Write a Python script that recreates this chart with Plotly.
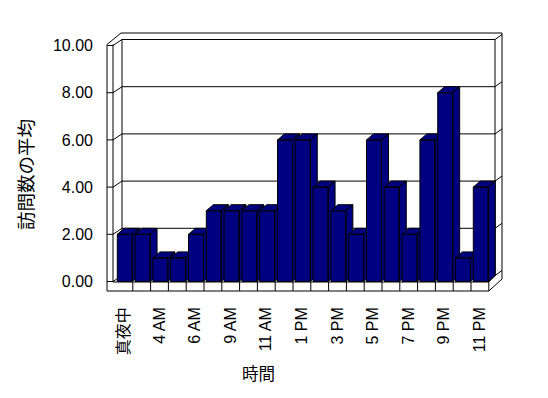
import plotly.graph_objects as go

# ---- data ----
categories = ["真夜中", "1 AM", "4 AM", "5 AM", "6 AM", "8 AM", "9 AM", "10 AM", "11 AM",
              "正午", "1 PM", "2 PM", "3 PM", "4 PM", "5 PM", "6 PM", "7 PM", "8 PM",
              "9 PM", "10 PM", "11 PM"]
values = [2, 2, 1, 1, 2, 3, 3, 3, 3, 6, 6, 4, 3, 2, 6, 4, 2, 6, 8, 1, 4]
y_ticks = [0, 2, 4, 6, 8, 10]
x_title = "時間"
y_title = "訪問数の平均"

# ---- geometry (pixel scale helpers) ----
W, H = 548, 398
PL, PR, PT, PB = 100, 510, 25, 300          # plot area in pixels
X0PX, CW = 115.0, 17.8                       # category 0 left edge, px per category
Y0PX, YU = 281.5, 23.6                       # value 0 position, px per unit


def dx(px):
    return px / CW


def dy(px):
    return px / YU


def X(px):
    return (px - X0PX) / CW


def Y(py):
    return (Y0PX - py) / YU


xr = [X(PL), X(PR)]
yr = [Y(PB), Y(PT)]

NAVY = "#000080"
fig = go.Figure()

# ---- bars as 3D prisms (front, top, side) ----
BDX, BDY = dx(7), dy(6)
for i, v in enumerate(values):
    x0, x1 = i + 0.13, i + 0.97
    xs = [x1, x1 + BDX, x1 + BDX, x1, x1, None,
          x0, x1, x1 + BDX, x0 + BDX, x0, None,
          x0, x1, x1, x0, x0]
    ys = [0, BDY, v + BDY, v, 0, None,
          v, v, v + BDY, v + BDY, v, None,
          0, 0, v, v, 0]
    fig.add_trace(go.Scatter(x=xs, y=ys, mode="lines", fill="toself",
                             fillcolor=NAVY, line=dict(color="black", width=1),
                             hoverinfo="skip", showlegend=False))

# ---- frame / walls / gridlines ----
shapes = []


def seg(p, q):
    shapes.append(dict(type="line", x0=X(p[0]), y0=Y(p[1]), x1=X(q[0]), y1=Y(q[1]),
                       line=dict(color="black", width=1), layer="below"))


WDX, WDY = 9, 6
for t in y_ticks:
    fy = Y0PX - t * YU
    seg((107, fy), (113, fy))
    seg((113, fy), (113 + WDX, fy - WDY))
    seg((113 + WDX, fy - WDY), (495, fy - WDY))
    seg((495, fy - WDY), (502, fy - WDY - 5))

top_front = Y0PX - 10 * YU
seg((107, top_front - 1), (107, 291))
seg((113, top_front - 1), (113, 282))
seg((122, top_front - WDY), (122, Y0PX - WDY))
seg((495, top_front - WDY), (495, Y0PX - WDY))
seg((107, top_front - 1), (121, 33))
seg((121, 33), (502, 33))
seg((502, 33), (502, 279))
seg((502, 279), (488.8, 291))
seg((107, 291), (488.8, 291))
seg((113, 282), (488.8, 282))
seg((488.8, 282), (495, Y0PX - WDY))
for k in range(1, len(values) + 1):
    xk = X0PX + k * CW
    seg((xk, 282), (xk, 291))

FONT = "Liberation Sans, Arial, Noto Sans CJK JP, sans-serif"

fig.update_layout(
    width=W, height=H,
    margin=dict(l=PL, r=W - PR, t=PT, b=H - PB, pad=0),
    paper_bgcolor="white", plot_bgcolor="white",
    shapes=shapes,
    font=dict(family=FONT, size=16, color="black"),
    xaxis=dict(range=xr, showgrid=False, zeroline=False, showline=False,
               tickmode="array",
               tickvals=[i + 0.5 for i in range(0, len(categories), 2)],
               ticktext=[categories[i] for i in range(0, len(categories), 2)],
               tickangle=-90, ticks="", ticklabelstandoff=3, tickfont=dict(size=16)),
    yaxis=dict(range=yr, showgrid=False, zeroline=False, showline=False,
               tickmode="array", tickvals=y_ticks,
               ticktext=[f"{t:.2f}" for t in y_ticks],
               ticks="", ticklabelstandoff=6, tickfont=dict(size=16)),
    annotations=[
        dict(text=x_title, xref="paper", yref="paper",
             x=(258.5 - PL) / (PR - PL), y=(PB - 374) / (PB - PT),
             xanchor="center", yanchor="middle", showarrow=False,
             font=dict(size=16.5)),
        dict(text=y_title, xref="paper", yref="paper", textangle=-90,
             x=(26.5 - PL) / (PR - PL), y=(PB - 174.5) / (PB - PT),
             xanchor="center", yanchor="middle", showarrow=False,
             font=dict(size=18.5)),
    ],
)

fig.write_html("out.html")
